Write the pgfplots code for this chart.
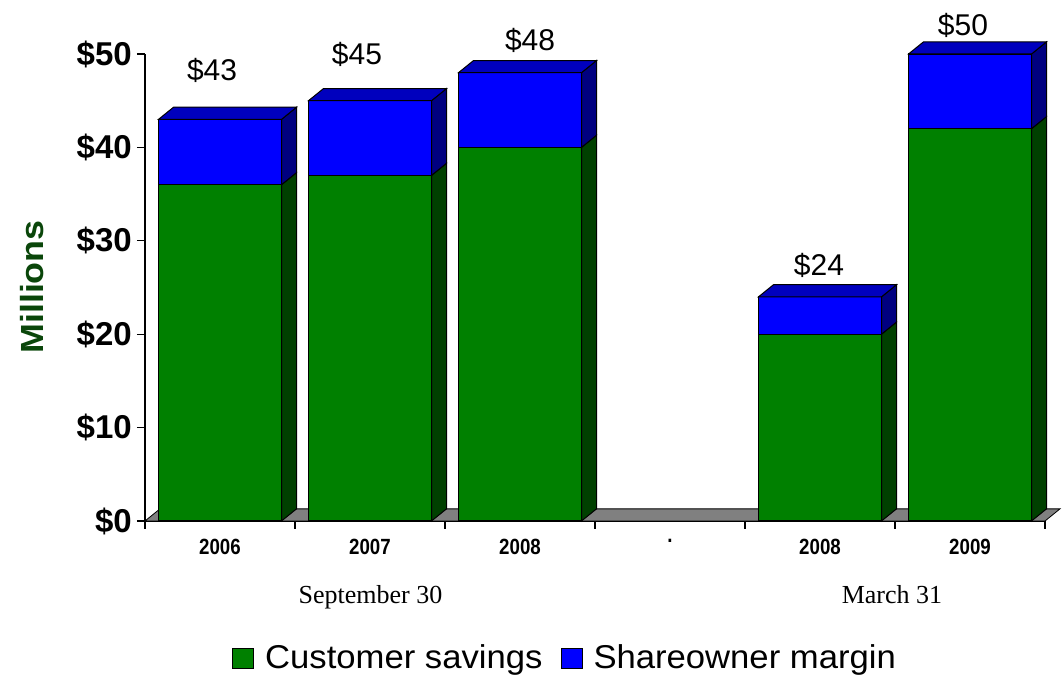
\documentclass[border=0pt]{standalone}
\usepackage{pgfplots}
\pgfplotsset{compat=1.18}
\usepackage{fontspec}
\setmainfont{Liberation Sans}
\newfontfamily\condsans[FakeStretch=0.85]{Liberation Sans}
\newfontfamily\widesans[FakeStretch=1.12]{Liberation Sans}
\newfontfamily\legsans[FakeStretch=1.05]{Liberation Sans}
\newfontfamily\serifx{Liberation Serif}
\definecolor{cgreen}{RGB}{0,128,0}
\definecolor{cgreenside}{RGB}{0,64,0}
\definecolor{cblue}{RGB}{0,0,255}
\definecolor{cblueside}{RGB}{0,0,128}
\definecolor{cbluetop}{RGB}{0,0,190}
\definecolor{cfloor}{RGB}{128,128,128}
\definecolor{mgreen}{RGB}{10,70,10}
\begin{document}
\begin{tikzpicture}[x=1pt,y=1pt]
\useasboundingbox (0,0) rectangle (1064,676);
\begin{axis}[
  at={(145pt,155pt)}, anchor=south west,
  scale only axis, width=900pt, height=467pt,
  xmin=-0.5, xmax=5.5, ymin=0, ymax=50,
  clip=false,
  axis lines=left,
  x axis line style={-, line width=2.5pt},
  y axis line style={-, line width=1.2pt},
  tick align=outside, major tick length=8pt,
  tick style={black, line width=1.2pt},
  xtick={-0.5,0.5,1.5,2.5,3.5,4.5,5.5},
  xticklabels={},
  extra x ticks={0,1,2,3,4,5},
  extra x tick labels={2006,2007,2008,.,2008,2009},
  extra x tick style={major tick length=0pt,
     xticklabel style={font=\condsans\bfseries\fontsize{22}{22}\selectfont, yshift=-15pt}},
  ytick={0,10,20,30,40,50},
  yticklabels={\$0,\$10,\$20,\$30,\$40,\$50},
  yticklabel style={font=\bfseries\fontsize{33}{33}\selectfont, inner xsep=5pt},
  ylabel={Millions},
  ylabel style={at={(axis description cs:-0.126,0.501)}, anchor=center,
     font=\widesans\bfseries\fontsize{32}{32}\selectfont, text=mgreen},
  legend style={at={(axis description cs:0.4667,-0.291)}, anchor=center,
     draw=none, fill=none, legend columns=2, inner sep=0pt,
     font=\legsans\fontsize{33}{33}\selectfont,
     /tikz/every odd column/.append style={column sep=9pt},
     /tikz/every even column/.append style={column sep=16pt}},
  legend image code/.code={\draw[#1, line width=1pt] (0pt,-12pt) rectangle (21pt,8pt);},
]
% floor
\addplot[fill=cfloor, draw=black, line width=0.8pt, forget plot]
  coordinates {(-0.5,0) (-0.4,1.3) (5.6,1.3) (5.5,0)} -- cycle;
% front faces: totals (blue) then customer savings (green)
\addplot[ybar, bar width=0.82, bar shift=0pt, fill=cblue, draw=black, line width=1.2pt, forget plot]
  coordinates {(0,43) (1,45) (2,48) (4,24) (5,50)};
\addplot[ybar, bar width=0.82, bar shift=0pt, fill=cgreen, draw=black, line width=1.2pt, forget plot]
  coordinates {(0,36) (1,37) (2,40) (4,20) (5,42)};
% side and top faces
\addplot[fill=cgreenside, draw=black, line width=1pt, forget plot] coordinates {(0.41,0) (0.51,1.3) (0.51,37.3) (0.41,36)} -- cycle;
\addplot[fill=cblueside, draw=black, line width=1pt, forget plot] coordinates {(0.41,36) (0.51,37.3) (0.51,44.3) (0.41,43)} -- cycle;
\addplot[fill=cbluetop, draw=black, line width=1pt, forget plot] coordinates {(-0.41,43) (-0.31,44.3) (0.51,44.3) (0.41,43)} -- cycle;
\addplot[fill=cgreenside, draw=black, line width=1pt, forget plot] coordinates {(1.41,0) (1.51,1.3) (1.51,38.3) (1.41,37)} -- cycle;
\addplot[fill=cblueside, draw=black, line width=1pt, forget plot] coordinates {(1.41,37) (1.51,38.3) (1.51,46.3) (1.41,45)} -- cycle;
\addplot[fill=cbluetop, draw=black, line width=1pt, forget plot] coordinates {(0.59,45) (0.69,46.3) (1.51,46.3) (1.41,45)} -- cycle;
\addplot[fill=cgreenside, draw=black, line width=1pt, forget plot] coordinates {(2.41,0) (2.51,1.3) (2.51,41.3) (2.41,40)} -- cycle;
\addplot[fill=cblueside, draw=black, line width=1pt, forget plot] coordinates {(2.41,40) (2.51,41.3) (2.51,49.3) (2.41,48)} -- cycle;
\addplot[fill=cbluetop, draw=black, line width=1pt, forget plot] coordinates {(1.59,48) (1.69,49.3) (2.51,49.3) (2.41,48)} -- cycle;
\addplot[fill=cgreenside, draw=black, line width=1pt, forget plot] coordinates {(4.41,0) (4.51,1.3) (4.51,21.3) (4.41,20)} -- cycle;
\addplot[fill=cblueside, draw=black, line width=1pt, forget plot] coordinates {(4.41,20) (4.51,21.3) (4.51,25.3) (4.41,24)} -- cycle;
\addplot[fill=cbluetop, draw=black, line width=1pt, forget plot] coordinates {(3.59,24) (3.69,25.3) (4.51,25.3) (4.41,24)} -- cycle;
\addplot[fill=cgreenside, draw=black, line width=1pt, forget plot] coordinates {(5.41,0) (5.51,1.3) (5.51,43.3) (5.41,42)} -- cycle;
\addplot[fill=cblueside, draw=black, line width=1pt, forget plot] coordinates {(5.41,42) (5.51,43.3) (5.51,51.3) (5.41,50)} -- cycle;
\addplot[fill=cbluetop, draw=black, line width=1pt, forget plot] coordinates {(4.59,50) (4.69,51.3) (5.51,51.3) (5.41,50)} -- cycle;
% legend
\addlegendimage{fill=cgreen, draw=black}
\addlegendentry{Customer savings}
\addlegendimage{fill=cblue, draw=black}
\addlegendentry{Shareowner margin}
% value labels
\node[font=\fontsize{30}{30}\selectfont] at (axis cs:-0.053,48.2) {\$43};
\node[font=\fontsize{30}{30}\selectfont] at (axis cs:0.913,49.9) {\$45};
\node[font=\fontsize{30}{30}\selectfont] at (axis cs:2.067,51.5) {\$48};
\node[font=\fontsize{30}{30}\selectfont] at (axis cs:3.993,27.4) {\$24};
\node[font=\fontsize{30}{30}\selectfont] at (axis cs:4.953,53.1) {\$50};
% group labels
\node[font=\serifx\fontsize{26}{26}\selectfont, anchor=base] at (axis cs:1.003,-8.78) {September 30};
\node[font=\serifx\fontsize{26}{26}\selectfont, anchor=base] at (axis cs:4.48,-8.78) {March 31};
\end{axis}
\end{tikzpicture}
\end{document}
